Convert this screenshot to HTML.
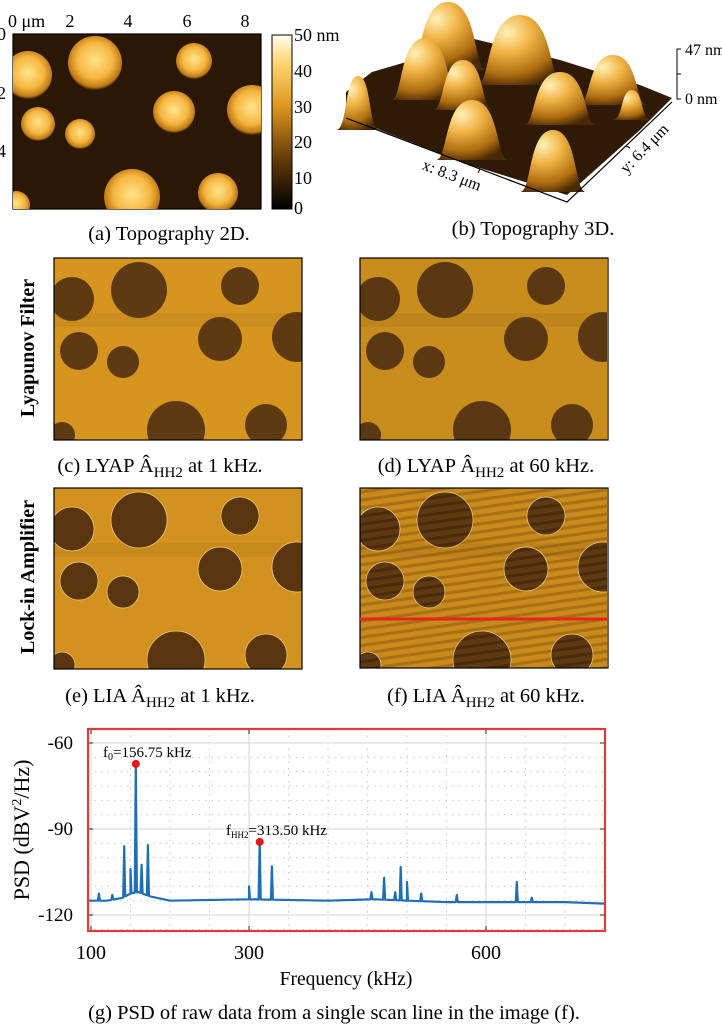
<!DOCTYPE html>
<html><head><meta charset="utf-8"><style>
html,body{margin:0;padding:0;background:#fff;}
svg{display:block;font-family:"Liberation Serif",serif;}
</style></head><body>
<svg id="fig" width="722" height="1024" viewBox="0 0 722 1024" xmlns="http://www.w3.org/2000/svg">
<defs>
<radialGradient id="blob" cx="50%" cy="45%" r="55%"><stop offset="0" stop-color="#ffe48a"/><stop offset="0.6" stop-color="#f5b640"/><stop offset="0.9" stop-color="#c07a14"/><stop offset="1" stop-color="#3a2206"/></radialGradient>
<radialGradient id="bump" cx="35%" cy="25%" r="80%"><stop offset="0" stop-color="#fff2b8"/><stop offset="0.35" stop-color="#f2b548"/><stop offset="0.75" stop-color="#b06e10"/><stop offset="1" stop-color="#4a2a06"/></radialGradient>
<linearGradient id="cbar" x1="0" y1="1" x2="0" y2="0"><stop offset="0" stop-color="#000"/><stop offset="0.3" stop-color="#6a3d08"/><stop offset="0.6" stop-color="#e09a20"/><stop offset="0.85" stop-color="#ffd878"/><stop offset="1" stop-color="#fffef0"/></linearGradient>
<pattern id="stripes" width="8" height="8" patternUnits="userSpaceOnUse" patternTransform="rotate(-8)"><rect width="8" height="8" fill="#c88a1c"/><rect width="8" height="3" fill="#a87016"/></pattern>
<pattern id="stripesDark" width="8" height="8" patternUnits="userSpaceOnUse" patternTransform="rotate(-8)"><rect width="8" height="8" fill="#5e3a12"/><rect width="8" height="3" fill="#4a2c0c"/></pattern>
<clipPath id="clipA"><rect x="13" y="34" width="248" height="175"/></clipPath>
<clipPath id="clipC"><rect x="54" y="258" width="248" height="182"/></clipPath>
<clipPath id="clipD"><rect x="360" y="258" width="247" height="182"/></clipPath>
<clipPath id="clipE"><rect x="54" y="488" width="248" height="181"/></clipPath>
<clipPath id="clipF"><rect x="360" y="488" width="247" height="180"/></clipPath>
</defs>

<!-- (a) Topography 2D -->
<g>
<rect x="13" y="34" width="248" height="175" fill="#2a1804" stroke="#000" stroke-width="1.2"/>
<g id="blobsA" clip-path="url(#clipA)"></g>
<g font-size="18" fill="#000">
<text x="8" y="27">0 μm</text>
<text x="70" y="27" text-anchor="middle">2</text>
<text x="128" y="27" text-anchor="middle">4</text>
<text x="187" y="27" text-anchor="middle">6</text>
<text x="245" y="27" text-anchor="middle">8</text>
<text x="-3" y="40">0</text>
<text x="-3" y="99">2</text>
<text x="-3" y="157">4</text>
</g>
<rect x="272" y="35" width="20" height="174" fill="url(#cbar)" stroke="#000" stroke-width="1"/>
<g font-size="18">
<text x="294" y="41">50 nm</text><text x="294" y="77">40</text><text x="294" y="113">30</text>
<text x="294" y="148">20</text><text x="294" y="184">10</text><text x="294" y="214">0</text>
</g>
<text x="169" y="240" font-size="20.5" text-anchor="middle">(a) Topography 2D.</text>
</g>

<!-- (b) Topography 3D -->
<g>
<polygon points="346,92 372,72 420,58 470,38 560,60 640,85 672,98 640,130 567,195 470,165 380,130 346,112" fill="#2e1a05"/>
<g id="bumps3d"></g>
<polyline points="346,118 567,202 672,102" fill="none" stroke="#000" stroke-width="1.2"/>
<line x1="480" y1="169" x2="478" y2="173" stroke="#000"/>
<line x1="626" y1="146" x2="630" y2="148" stroke="#000"/>
<text x="450" y="180" font-size="16" text-anchor="middle" transform="rotate(21 450 180)">x: 8.3 μm</text>
<text x="648" y="152" font-size="16" text-anchor="middle" transform="rotate(-46 648 152)">y: 6.4 μm</text>
<path d="M681,49 L677,49 L677,99 L681,99 M677,74 L681,74" fill="none" stroke="#000" stroke-width="1"/>
<text x="685" y="55" font-size="16">47 nm</text>
<text x="685" y="104" font-size="16">0 nm</text>
<text x="533" y="235" font-size="20.5" text-anchor="middle">(b) Topography 3D.</text>
</g>

<!-- Row labels -->
<text x="0" y="0" font-size="20" font-weight="bold" text-anchor="middle" transform="translate(34 348) rotate(-90)">Lyapunov Filter</text>
<text x="0" y="0" font-size="20" font-weight="bold" text-anchor="middle" transform="translate(34 577) rotate(-90)">Lock-in Amplifier</text>

<g id="panels"></g>

<g font-size="20.5">
<text x="160" y="472" text-anchor="middle">(c) LYAP Â<tspan font-size="15" dy="5">HH2</tspan><tspan dy="-5"> at 1 kHz.</tspan></text>
<text x="486" y="472" text-anchor="middle">(d) LYAP Â<tspan font-size="15" dy="5">HH2</tspan><tspan dy="-5"> at 60 kHz.</tspan></text>
<text x="160" y="702" text-anchor="middle">(e) LIA Â<tspan font-size="15" dy="5">HH2</tspan><tspan dy="-5"> at 1 kHz.</tspan></text>
<text x="486" y="702" text-anchor="middle">(f) LIA Â<tspan font-size="15" dy="5">HH2</tspan><tspan dy="-5"> at 60 kHz.</tspan></text>
</g>

<!-- (g) PSD chart -->
<g id="psd"></g>
<text x="0" y="0" font-size="22" text-anchor="middle" transform="translate(29 830) rotate(-90)">PSD (dBV<tspan font-size="14" dy="-8">2</tspan><tspan dy="8">/Hz)</tspan></text>
<text x="346" y="985" font-size="19.5" text-anchor="middle">Frequency (kHz)</text>
<text x="334" y="1019" font-size="20.5" text-anchor="middle">(g) PSD of raw data from a single scan line in the image (f).</text>
</svg>

<script>
// PSD data
const floorFreq = [96, 120, 140, 150, 160, 175, 200, 300, 400, 460, 500, 550, 600, 700, 750];
const floorDb = [-115, -115, -114, -112.5, -112, -113.5, -115, -114.5, -115, -114.5, -115, -115.5, -115.5, -115.5, -116];
const peakFreq = [110, 127, 142, 150, 156.75, 164, 172, 300, 313.5, 329, 455, 471, 485, 492, 500, 518, 563, 639, 658];
const peakDb = [-112.5, -113, -96, -104, -67.3, -102.5, -95.6, -110, -94.5, -103, -112, -107, -112, -103.2, -108.5, -112.5, -113, -108.5, -114];
const markerFreq = [156.75, 313.5];
const markerDb = [-67.3, -94.5];
const xTicks = [100, 300, 600];
const yTicks = [-60, -90, -120];

const NS = 'http://www.w3.org/2000/svg';
function mk(tag, attrs, parent) { const e = document.createElementNS(NS, tag); for (const k in attrs) e.setAttribute(k, attrs[k]); parent.appendChild(e); return e; }

const X0 = 88, X1 = 605, Y0 = 729, Y1 = 931;
const fx = f => 91 + (f - 100) * 0.79;
const fy = d => 743 + (-60 - d) * 2.867;
function floorAt(f) {
  for (let i = 0; i < floorFreq.length - 1; i++) {
    if (f >= floorFreq[i] && f <= floorFreq[i + 1]) {
      const t = (f - floorFreq[i]) / (floorFreq[i + 1] - floorFreq[i]);
      return floorDb[i] + t * (floorDb[i + 1] - floorDb[i]);
    }
  }
  return floorDb[floorDb.length - 1];
}
const psd = document.getElementById('psd');
for (let f = 100; f <= 750; f += 50) {
  const major = xTicks.includes(f);
  const l = mk('line', {x1: fx(f), x2: fx(f), y1: Y0, y2: Y1, stroke: major ? '#d4d4d4' : '#c8c8c8', 'stroke-width': 1, 'stroke-dasharray': major ? '' : '1.5,5'}, psd);
  
  
}
for (let d = -55; d >= -125; d -= 5) {
  const major = yTicks.includes(d);
  const l = mk('line', {x1: X0, x2: X1, y1: fy(d), y2: fy(d), stroke: major ? '#d4d4d4' : '#c8c8c8', 'stroke-width': 1, 'stroke-dasharray': major ? '' : '1.5,5'}, psd);
  
  
}
xTicks.forEach(f => {
  mk('line', {x1: fx(f), x2: fx(f), y1: Y0, y2: Y0 + 5, stroke: '#222'}, psd);
  mk('line', {x1: fx(f), x2: fx(f), y1: Y1, y2: Y1 - 5, stroke: '#222'}, psd);
  const t = mk('text', {x: fx(f), y: 959, 'font-size': 20, 'text-anchor': 'middle'}, psd);
  t.textContent = f;
  
  
});
yTicks.forEach(d => {
  mk('line', {x1: X0, x2: X0 + 5, y1: fy(d), y2: fy(d), stroke: '#222'}, psd);
  mk('line', {x1: X1, x2: X1 - 5, y1: fy(d), y2: fy(d), stroke: '#222'}, psd);
  const t = mk('text', {x: 73, y: fy(d) + 6, 'font-size': 19, 'text-anchor': 'end'}, psd);
  t.textContent = d;
  
  
});
let pts = [];
floorFreq.forEach((f, i) => pts.push([f, floorDb[i]]));
peakFreq.forEach((f, i) => { pts.push([f - 1.3, floorAt(f - 1.3)]); pts.push([f, peakDb[i]]); pts.push([f + 1.3, floorAt(f + 1.3)]); });
pts.sort((a, b) => a[0] - b[0]);
const trace = mk('polyline', {points: pts.map(p => fx(p[0]).toFixed(1) + ',' + fy(p[1]).toFixed(1)).join(' '), fill: 'none', stroke: '#1f6fb5', 'stroke-width': 2.2, 'stroke-linejoin': 'round'}, psd);


markerFreq.forEach((f, i) => {
  const c = mk('circle', {cx: fx(f), cy: fy(markerDb[i]), r: 4, fill: '#e8141c'}, psd);
  
  
});
const l1 = mk('text', {x: 103, y: 757, 'font-size': 15}, psd);
l1.innerHTML = 'f<tspan font-size="10" dy="3">0</tspan><tspan dy="-3">=156.75 kHz</tspan>';


const l2 = mk('text', {x: 226, y: 835, 'font-size': 15}, psd);
l2.innerHTML = 'f<tspan font-size="9" dy="3">HH2</tspan><tspan dy="-3">=313.50 kHz</tspan>';


const box = mk('rect', {x: X0, y: Y0, width: X1 - X0, height: Y1 - Y0, fill: 'none', stroke: '#e23a3a', 'stroke-width': 2.2}, psd);



// Topography 2D blobs
const blobX = [28, 95, 194, 174, 252, 38, 80, 132, 218, 16];
const blobY = [75, 63, 61, 112, 110, 124, 134, 197, 193, 205];
const blobR = [24, 27, 18, 21, 25, 17, 15, 28, 20, 14];
const ga = document.getElementById('blobsA');
blobX.forEach((x, i) => {
  const c = mk('circle', {cx: x, cy: blobY[i], r: blobR[i], fill: 'url(#blob)'}, ga);
  
  
});

// 3D bumps
const bumpCx = [358, 448, 520, 425, 463, 613, 560, 632, 472, 553];
const bumpTop = [76, 2, 15, 38, 60, 55, 72, 90, 100, 130];
const bumpBase = [130, 70, 85, 100, 110, 105, 125, 120, 160, 192];
const bumpHalf = [14, 30, 34, 26, 22, 26, 28, 12, 28, 25];
const gb = document.getElementById('bumps3d');
bumpCx.forEach((cx, i) => {
  const t = bumpTop[i], b = bumpBase[i], w = bumpHalf[i];
  const d = `M${cx - w - 8},${b} C${cx - w + 4},${b} ${cx - w},${t} ${cx},${t} C${cx + w},${t} ${cx + w - 4},${b} ${cx + w + 8},${b} Z`;
  const p = mk('path', {d: d, fill: 'url(#bump)'}, gb);
  
  
});

// Amplitude panels
const holeDx = [18, 85, 186, 166, 243, 25, 69, 122, 212, 8];
const holeDy = [41, 32, 28, 81, 79, 93, 104, 172, 167, 177];
const holeR = [22, 28, 19, 22, 25, 19, 16, 29, 21, 13];
const panelX = [54, 360, 54, 360];
const panelY = [258, 258, 488, 488];
const panelH = [182, 182, 181, 180];
const panelNames = ['lyap-1khz-image', 'lyap-60khz-image', 'lia-1khz-image', 'lia-60khz-image'];
const clips = ['clipC', 'clipD', 'clipE', 'clipF'];
const bgs = ['#d6951f', '#c98d1e', '#d3921f', 'url(#stripes)'];
const holeFill = ['#5e3a12', '#5a3811', '#5a3610', 'url(#stripesDark)'];
const panels = document.getElementById('panels');
panelX.forEach((px, k) => {
  const g = mk('g', {'clip-path': 'url(#' + clips[k] + ')'}, panels);
  
  
  mk('rect', {x: px, y: panelY[k], width: 248, height: panelH[k], fill: bgs[k]}, g);
  mk('rect', {x: px, y: panelY[k] + 55, width: 248, height: 14, fill: '#000', opacity: 0.05}, g);
  holeDx.forEach((dx, i) => {
    const c = mk('circle', {cx: px + dx, cy: panelY[k] + holeDy[i], r: holeR[i], fill: holeFill[k], stroke: k >= 2 ? '#f4d070' : 'none', 'stroke-width': 0.7}, g);
    
    
  });
  const fr = mk('rect', {x: px, y: panelY[k], width: 248, height: panelH[k], fill: 'none', stroke: '#000', 'stroke-width': 1.2}, panels);
  
  
});
const red = mk('line', {x1: 360, x2: 607, y1: 619, y2: 619, stroke: '#e8241c', 'stroke-width': 3}, panels);


</script>
</body></html>
